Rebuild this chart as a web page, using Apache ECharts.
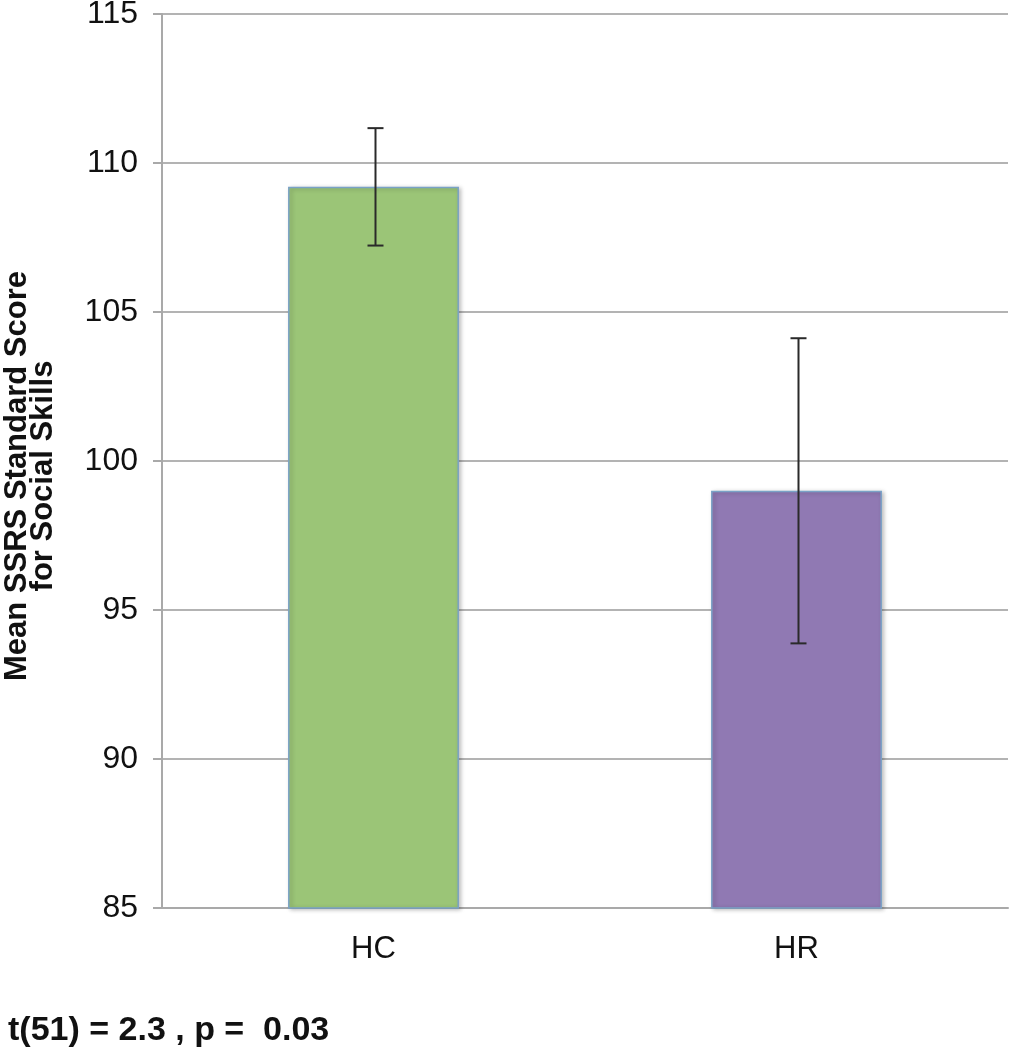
<!DOCTYPE html>
<html>
<head>
<meta charset="utf-8">
<script src="https://cdn.jsdelivr.net/npm/echarts@6/dist/echarts.min.js"></script>
<style>
html,body{margin:0;padding:0;background:#fff;}
#c{width:1011px;height:1050px;}
</style>
</head>
<body>
<div id="c"></div>
<script>
const categories = ['HC', 'HR'];
const means = [109.2, 99.0];
const errors = [1.97, 5.12];
const barColors = ['#9bc577', '#9079b3'];
const yTicks = [85, 90, 95, 100, 105, 110, 115];
const yTitleLines = ['Mean SSRS Standard Score', 'for Social Skills'];
const statText = 't(51) = 2.3 , p =  0.03';

const chart = echarts.init(document.getElementById('c'), null, {renderer: 'canvas'});
const font = '"Liberation Sans", Arial, Helvetica, sans-serif';

const titleStyle = {fill: '#111', fontSize: 31, fontWeight: 'bold', fontFamily: font, align: 'center', verticalAlign: 'middle'};

chart.setOption({
  animation: false,
  backgroundColor: '#fff',
  grid: {left: 162, right: 3, top: 14, bottom: 142, containLabel: false, outerBoundsMode: 'none'},
  xAxis: {
    type: 'category',
    data: categories,
    axisLine: {show: true, lineStyle: {color: '#a9a9a9', width: 2}},
    axisTick: {show: false},
    axisLabel: {color: '#111', fontSize: 31, fontFamily: font, margin: 26}
  },
  yAxis: {
    type: 'value',
    min: yTicks[0],
    max: yTicks[yTicks.length - 1],
    interval: 5,
    axisLine: {show: true, lineStyle: {color: '#a9a9a9', width: 2}},
    axisTick: {show: true, length: 9, inside: false, lineStyle: {color: '#a9a9a9', width: 2}},
    splitLine: {show: true, lineStyle: {color: '#b3b3b3', width: 2}},
    axisLabel: {color: '#111', fontSize: 32, fontFamily: font, margin: 24}
  },
  series: [
    {
      type: 'bar',
      barWidth: '40.4%',
      data: means.map((v, i) => ({
        value: v,
        itemStyle: {
          color: barColors[i],
          borderColor: '#7aa2c6',
          borderWidth: 1.5,
          shadowColor: 'rgba(0,0,0,0.25)',
          shadowBlur: 4,
          shadowOffsetX: 2,
          shadowOffsetY: 1
        }
      })),
      z: 2
    },
    {
      type: 'custom',
      z: 5,
      data: means.map((v, i) => [i, v - errors[i], v + errors[i]]),
      renderItem: function (params, api) {
        const idx = api.value(0);
        const lo = api.coord([idx, api.value(1)]);
        const hi = api.coord([idx, api.value(2)]);
        const x = lo[0] + 2;
        const half = 8;
        const style = {stroke: '#2a2a2a', lineWidth: 2};
        return {
          type: 'group',
          children: [
            {type: 'line', shape: {x1: x, y1: hi[1], x2: x, y2: lo[1]}, style: style},
            {type: 'line', shape: {x1: x - half, y1: hi[1], x2: x + half, y2: hi[1]}, style: style},
            {type: 'line', shape: {x1: x - half, y1: lo[1], x2: x + half, y2: lo[1]}, style: style}
          ]
        };
      }
    }
  ],
  graphic: [
    {
      type: 'text',
      x: 17,
      y: 476,
      rotation: Math.PI / 2,
      style: Object.assign({text: yTitleLines[0]}, titleStyle)
    },
    {
      type: 'text',
      x: 43,
      y: 476,
      rotation: Math.PI / 2,
      style: Object.assign({text: yTitleLines[1]}, titleStyle)
    },
    {
      type: 'text',
      left: 8,
      top: 1014,
      style: {text: statText, fill: '#111', fontSize: 34, fontWeight: 'bold', fontFamily: font}
    }
  ]
});
</script>
</body>
</html>
